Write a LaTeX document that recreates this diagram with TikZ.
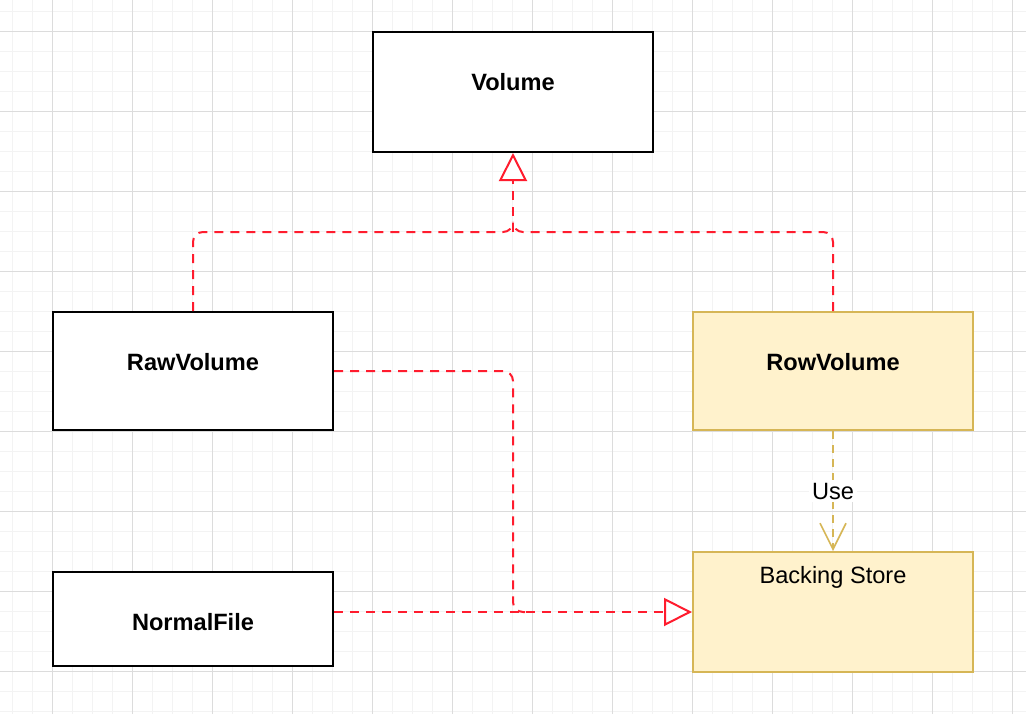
\documentclass[tikz,border=0pt]{standalone}
\usepackage{fontspec}
\setmainfont{Liberation Sans}
\usetikzlibrary{arrows.meta}
\definecolor{redl}{HTML}{FF1C2E}
\definecolor{goldl}{HTML}{D6B656}
\definecolor{goldf}{HTML}{FFF2CC}
\definecolor{gridmin}{HTML}{F3F3F3}
\definecolor{gridmaj}{HTML}{DCDCDC}
\newcommand\boxfont{\fontsize{17.7pt}{21pt}\selectfont\bfseries}
\newcommand\regfont{\fontsize{17.7pt}{21pt}\selectfont}
\tikzset{
  classbox/.style={draw=black, line width=1.5pt, fill=white, minimum width=210pt, inner sep=0pt},
  goldbox/.style={classbox, draw=goldl, fill=goldf},
  title/.style 2 args={label={[name=#1, font=\boxfont, anchor=center, yshift=-38pt]north:#2}},
  redline/.style={draw=redl, line width=1.5pt, dash pattern=on 6.75pt off 5.25pt, rounded corners=7.5pt},
  realize/.style={-{Triangle[open, fill=white, length=21pt, width=21pt, line width=1.5pt]}},
  useline/.style={draw=goldl, line width=1.2pt, dash pattern=on 6pt off 4.5pt, -{Straight Barb[length=19.5pt, width=19.5pt, line width=1.2pt]}},
}
\begin{document}
\begin{tikzpicture}[x=0.75pt,y=-0.75pt]
\useasboundingbox (0,0) rectangle (1026,714);
\fill[white] (0,0) rectangle (1026,714);
% grid
\foreach \gx in {12,32,...,1026} \draw[gridmin, line width=0.75pt] (\gx,0) -- (\gx,714);
\foreach \gy in {11.7,31.7,...,714} \draw[gridmin, line width=0.75pt] (0,\gy) -- (1026,\gy);
\foreach \gx in {52,132,...,1026} \draw[gridmaj, line width=0.75pt] (\gx,0) -- (\gx,714);
\foreach \gy in {31.7,111.7,...,714} \draw[gridmaj, line width=0.75pt] (0,\gy) -- (1026,\gy);

% boxes
\node[classbox, minimum height=90pt, title={voltxt}{Volume}] (vol) at (513,92) {};
\node[classbox, minimum height=88.5pt, title={rawtxt}{RawVolume}] (raw) at (193,371) {};
\node[goldbox, minimum height=88.5pt, title={rowtxt}{RowVolume}] (row) at (833,371) {};
\node[classbox, minimum height=70.5pt, title={nftxt}{NormalFile}] (nf) at (193,619) {};
\node[goldbox, minimum height=90pt, label={[name=bstxt, font=\regfont, anchor=center, yshift=-19.5pt]north:Backing Store}] (bs) at (833,612) {};

\coordinate (j) at (513,232);
\coordinate (jt) at (513,222);
\coordinate (k) at (513,612);
\coordinate (kt) at (525,612);

% realizations to Volume
\draw[redline] (raw.north) -- (raw.north |- j) -- (j) -- (jt);
\draw[redline] (row.north) -- (row.north |- j) -- (j) -- (jt);
\draw[redline, realize] (j) -- (vol.south);

% realizations to Backing Store
\draw[redline] (raw.east) -- (raw.east -| k) -- (k) -- (kt);
\draw[redline, realize] (nf.east |- bs.west) -- (bs.west);

% use
\draw[useline] (row.south) -- node[fill=white, font=\regfont, inner sep=2pt] (uselbl) {Use} (bs.north);
\end{tikzpicture}
\end{document}
